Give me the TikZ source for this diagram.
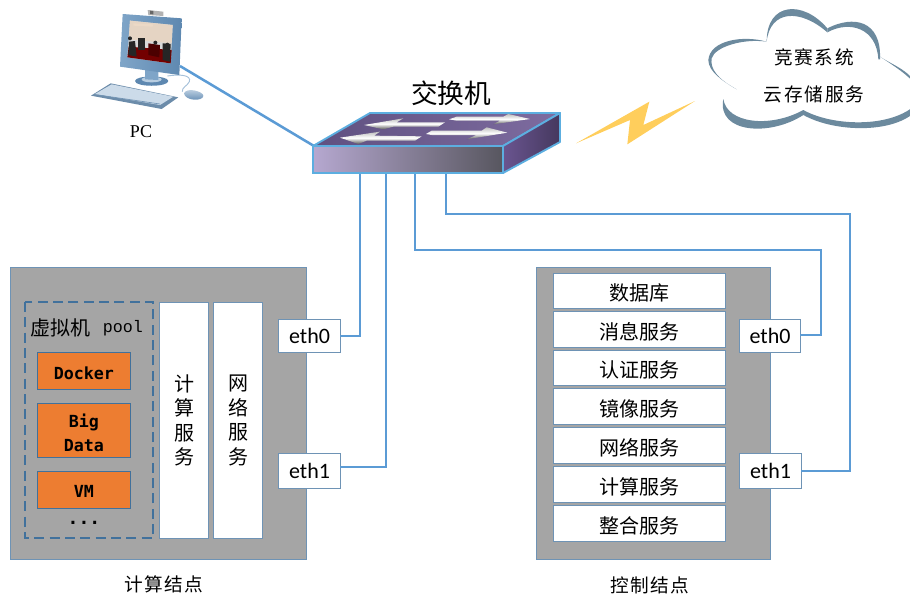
\documentclass[tikz,border=0pt]{standalone}
\usepackage{fontspec}
\setmainfont{Liberation Serif}
\newfontfamily\cjkmain{Noto Sans CJK SC}
\newfontfamily\cjkls[LetterSpace=9]{Noto Sans CJK SC}
\newfontfamily\cjkl[LetterSpace=7]{Noto Sans CJK SC}
\newfontfamily\ethfont{Carlito}
\newfontfamily\monofam{Liberation Mono}
\newfontfamily\boldmono{DejaVu Sans Mono}
\usetikzlibrary{positioning,calc}
\definecolor{linkblue}{HTML}{5B9BD5}
\definecolor{nodegrey}{HTML}{A5A5A5}
\definecolor{edgeblue}{HTML}{6E93B5}
\definecolor{dashblue}{HTML}{41719C}
\definecolor{vmorange}{HTML}{ED7D31}
\definecolor{swedge}{HTML}{5CAEE0}
\definecolor{cloudc}{HTML}{6C8A9E}
\definecolor{boltc}{HTML}{FFCE5C}
\definecolor{pcblue}{HTML}{7FA5C8}
\definecolor{pcdeep}{HTML}{5E88B0}
\definecolor{topa}{HTML}{5F5080}
\definecolor{topb}{HTML}{7E6CA0}
\definecolor{sidea}{HTML}{6A5590}
\definecolor{sideb}{HTML}{45385E}
\definecolor{fronta}{HTML}{B6A8D0}
\definecolor{frontm}{HTML}{9283A8}
\definecolor{frontb}{HTML}{57565F}
\tikzset{
  link/.style={draw=linkblue,line width=1.9pt,line join=miter},
  nodebox/.style={draw=edgeblue,line width=0.8pt,fill=nodegrey},
  whitebox/.style={draw=edgeblue,line width=0.8pt,fill=white,inner sep=0pt,
    align=center,font=\cjkmain\fontsize{15}{18}\selectfont},
  ethbox/.style={draw=edgeblue,line width=0.8pt,fill=white,inner sep=0pt,
    font=\ethfont\fontsize{16.5}{18}\selectfont},
  vmbox/.style={draw=dashblue,line width=0.6pt,fill=vmorange,inner sep=0pt,align=center,
    font=\boldmono\bfseries\fontsize{12.5}{18}\selectfont},
  lbl/.style={inner sep=0pt,align=center},
  arrowshape/.style={draw=none,top color=black!25,bottom color=black!65,middle color=white},
  px/.style={x=0.75pt,y=-0.75pt},
  zoomgrid/.style={x=0.25pt,y=-0.25pt}
}
\newcommand{\lowr}[1]{\raisebox{-1.5pt}[\height][\depth]{#1}}
% box from px corners: name, x0, y0, x1, y1, style, text
\newcommand{\pxbox}[7]{\node[#6,minimum width=#4*0.75pt-#2*0.75pt,minimum height=#5*0.75pt-#3*0.75pt,anchor=north west] (#1) at (#2,#3) {#7};}
\begin{document}
\begin{tikzpicture}[px]
\useasboundingbox (0,0) rectangle (910,597);
\clip (0,0) rectangle (910,597);

% ---------- compute node
\pxbox{compute}{10}{267}{306}{559}{nodebox}{}
\draw[dashblue,line width=1.5pt,dash pattern=on 7.5pt off 4pt] (25,302) rectangle (153,538);
\node[lbl,font=\cjkmain\fontsize{15}{18}\selectfont] (vmpool) at (60,328) {虚拟机};
\node[lbl,font=\monofam\fontsize{12.5}{18}\selectfont] (pool) at (123,328) {pool};
\pxbox{docker}{37}{352}{130}{389}{vmbox}{\lowr{Docker}}
\pxbox{bigdata}{37}{403}{130}{457}{vmbox}{\lowr{Big}\\\lowr{Data}}
\pxbox{vm}{37}{471}{130}{508}{vmbox}{\lowr{VM}}
\node[lbl,font=\boldmono\bfseries\fontsize{13.5}{18}\selectfont] (dots) at (84,523) {...};
\pxbox{calcsvc}{159}{302}{208}{538}{whitebox,font=\cjkmain\fontsize{15}{18.4}\selectfont}{计\\算\\服\\务}
\pxbox{netsvc}{213}{302}{262}{538}{whitebox,font=\cjkmain\fontsize{15}{18.4}\selectfont}{网\\络\\服\\务}
\pxbox{ceth0}{278}{319}{340}{352}{ethbox}{eth0}
\pxbox{ceth1}{278}{453}{340}{488}{ethbox}{eth1}
\node[lbl,font=\cjkl\fontsize{14}{16}\selectfont] (computelabel) at (164,584) {计算结点};

% ---------- control node
\pxbox{control}{536}{267}{770}{559}{nodebox}{}
\pxbox{r1}{553}{273}{725}{308}{whitebox}{\lowr{数据库}}
\pxbox{r2}{553}{311}{725}{347}{whitebox}{\lowr{消息服务}}
\pxbox{r3}{553}{350}{725}{385}{whitebox}{\lowr{认证服务}}
\pxbox{r4}{553}{388}{725}{424}{whitebox}{\lowr{镜像服务}}
\pxbox{r5}{553}{427}{725}{463}{whitebox}{\lowr{网络服务}}
\pxbox{r6}{553}{466}{725}{502}{whitebox}{\lowr{计算服务}}
\pxbox{r7}{553}{505}{725}{541}{whitebox}{\lowr{整合服务}}
\pxbox{seth0}{739}{319}{800}{352}{ethbox}{eth0}
\pxbox{seth1}{739}{453}{801}{488}{ethbox}{eth1}
\node[lbl,font=\cjkl\fontsize{14}{16}\selectfont] (controllabel) at (650,585) {控制结点};

% ---------- switch
\coordinate (s1) at (360,174);
\coordinate (s2) at (386,174);
\coordinate (s3) at (415,174);
\coordinate (s4) at (446,174);
\coordinate (pcport) at (180,66);
\coordinate (swport) at (314,146);
\coordinate (b3) at (821,250);
\coordinate (b4) at (850,214);
\coordinate (c0) at (340,336);
\coordinate (c1) at (340,467);
\coordinate (k0) at (800,335);
\coordinate (k1) at (801,471);
\draw[link] (c0) -| (s1);
\draw[link] (c1) -| (s2);
\draw[link] (k0) -| (b3) -| (s3);
\draw[link] (k1) -| (b4) -| (s4);
\draw[link] (pcport) -- (swport);

\shade[draw=swedge,line width=1.4pt,line join=round,left color=topa,right color=topb]
  (313,146) -- (370,113) -- (560,113) -- (503,146) -- cycle;
\shade[draw=swedge,line width=1.4pt,line join=round,left color=sidea,right color=sideb]
  (503,146) -- (560,113) -- (560,142) -- (503,173) -- cycle;
\shade[draw=swedge,line width=1.4pt,shading angle=115,left color=fronta,middle color=frontm,right color=frontb]
  (313,146) rectangle (503,173);
\node[lbl,font=\cjkmain\fontsize{20}{24}\selectfont] (swlabel) at (451,93) {交换机};

\begin{scope}[shift={(300,70)},zoomgrid]
  \shade[arrowshape] (447,148) -- (470,140) -- (610,140) -- (625,132) -- (690,147) -- (580,163) -- (600,152) -- (470,152) -- cycle;
  \shade[arrowshape] (378,192) -- (395,182) -- (545,182) -- (560,172) -- (622,188) -- (500,208) -- (530,195) -- (395,195) -- cycle;
  \shade[arrowshape] (192,165) -- (310,145) -- (290,157) -- (435,157) -- (415,170) -- (280,170) -- (250,178) -- cycle;
  \shade[arrowshape] (120,203) -- (240,185) -- (222,197) -- (365,199) -- (345,212) -- (200,212) -- (175,222) -- cycle;
\end{scope}

% ---------- lightning
\begin{scope}[shift={(570,0)},zoomgrid]
  \fill[boltc] (18,430) -- (238,305) -- (220,375) -- (375,303) -- (172,433) -- (180,360) -- cycle;
  % ---------- cloud
  \fill[cloudc] (500,268) .. controls (440,235) and (420,205) .. (425,175)
     .. controls (435,140) and (520,115) .. (590,125)
     .. controls (520,105) and (420,120) .. (415,180)
     .. controls (415,215) and (460,245) .. (500,268) -- cycle;
  \fill[cloudc] (590,125) .. controls (600,30) and (690,25) .. (772,97)
     -- (772,85) .. controls (700,0) and (590,5) .. (590,125) -- cycle;
  \fill[cloudc] (772,97) .. controls (840,60) and (920,85) .. (925,178)
     -- (930,178) .. controls (935,60) and (850,45) .. (772,85) -- cycle;
  \fill[cloudc] (930,170) .. controls (960,190) and (1000,215) .. (1024,240)
     -- (1024,232) .. controls (1000,205) and (960,190) .. (930,170) -- cycle;
  \fill[cloudc] (460,297) .. controls (470,370) and (600,385) .. (700,330)
     .. controls (780,375) and (940,385) .. (1024,325)
     -- (1024,345) .. controls (950,400) and (790,395) .. (700,345)
     .. controls (600,410) and (440,400) .. (460,297) -- cycle;
  \node[lbl,font=\cjkls\fontsize{14}{16}\selectfont] (cloud1) at (732,173) {竞赛系统};
  \node[lbl,font=\cjkls\fontsize{14}{16}\selectfont] (cloud2) at (732,284) {云存储服务};
\end{scope}

% ---------- PC
\begin{scope}[shift={(80,0)},zoomgrid]
  % cable
  \draw[draw=pcblue!70,line width=0.7pt] (262,228) .. controls (300,222) and (335,225) .. (328,245) .. controls (322,258) and (305,262) .. (307,275);
  % stand
  \fill[pcdeep] (165,243) .. controls (165,225) and (265,225) .. (265,243)
     .. controls (265,262) and (165,262) .. (165,243) -- cycle;
  \fill[pcblue!55] (185,238) .. controls (185,228) and (245,228) .. (245,238)
     .. controls (245,250) and (185,250) .. (185,238) -- cycle;
  \fill[pcblue] (195,205) -- (235,210) -- (235,240) -- (195,238) -- cycle;
  % keyboard
  \fill[pcblue!85!black] (33,287) -- (92,250) -- (295,292) -- (245,327) -- cycle;
  \fill[pcblue!40] (45,282) -- (95,253) -- (280,290) -- (240,315) -- cycle;
  \draw[pcblue!90!black,line width=0.5pt] (55,285) -- (240,312);
  % mouse
  \shade[top color=pcblue!35,bottom color=pcdeep] (312,280) .. controls (320,260) and (372,275) .. (370,288)
     .. controls (368,305) and (315,303) .. (312,280) -- cycle;
  % webcam
  \fill[black!30] (203,30) -- (250,35) -- (250,48) -- (205,45) -- cycle;
  \fill[black!60] (210,32) -- (220,33) -- (220,43) -- (210,42) -- cycle;
  % monitor
  \shade[left color=pcblue,right color=pcdeep] (128,42) -- (305,55) -- (298,225) -- (120,200) -- cycle;
  % photo
  \fill[white!85!black] (150,62) -- (278,75) -- (272,190) -- (142,172) -- cycle;
  \fill[black!12!brown!30] (150,62) -- (278,75) -- (275,130) -- (146,118) -- cycle;
  \fill[red!45!black] (146,140) -- (275,150) -- (272,190) -- (142,172) -- cycle;
  \fill[black!85] (147,125) -- (165,123) -- (170,170) -- (145,165) -- cycle;
  \fill[black!70!red] (205,130) -- (240,135) -- (238,172) -- (205,165) -- cycle;
  \fill[black!85] (175,115) -- (195,115) -- (195,150) -- (175,150) -- cycle;
  \fill[black!85] (248,130) -- (272,132) -- (270,185) -- (248,180) -- cycle;
  \fill[black!85] (150,115) circle[radius=6];
  \fill[black!85] (226,128) circle[radius=6];
  \fill[black!85] (262,135) circle[radius=7];
  \fill[white!70!brown] (160,70) -- (220,73) -- (218,80) -- (160,77) -- cycle;
  \node[lbl,font=\fontsize{13.5}{16}\selectfont] (pclabel) at (183,395) {PC};
\end{scope}
\end{tikzpicture}
\end{document}
